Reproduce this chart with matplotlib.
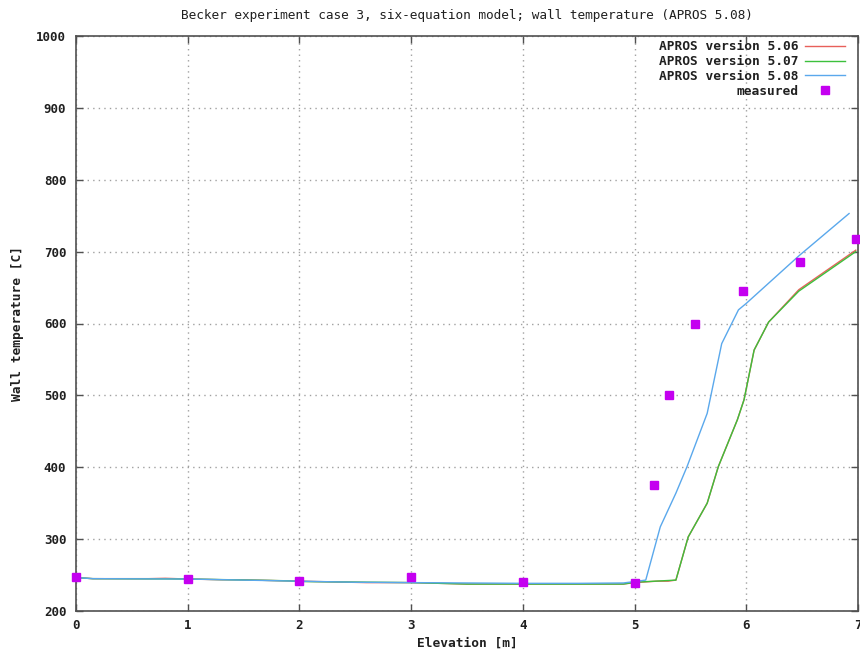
import matplotlib
matplotlib.use("Agg")
import matplotlib.pyplot as plt

# Data
x_v506 = [0.05, 0.15, 0.65, 0.8, 1.0, 1.3, 1.45, 2.0, 2.45, 2.6, 3.0, 3.5, 4.0, 4.5, 4.9, 5.0, 5.2, 5.3, 5.37,
          5.48, 5.65, 5.75, 5.92, 5.98, 6.07, 6.2, 6.47, 6.98]
t_v506 = [246, 245, 245, 245.5, 244.5, 243.5, 243.5, 241.5, 240, 239.5, 239.5, 237.5, 237.5, 237.5, 237.5, 239.5, 241.5, 241.5, 243,
          303, 350, 401, 466, 494, 563, 602, 647, 702]
x_v507 = [0.05, 0.15, 1.0, 1.75, 1.9, 2.0, 3.0, 3.5, 4.0, 4.5, 4.9, 5.0, 5.37,
          5.48, 5.65, 5.75, 5.92, 5.98, 6.07, 6.2, 6.47, 6.98]
t_v507 = [246, 245, 244.5, 242.5, 242, 241, 239.5, 237.5, 237.5, 237.5, 237.5, 240, 243,
          303, 350, 401, 466, 494, 563, 602, 645, 700]
x_v508 = [0.05, 0.15, 1.0, 2.0, 2.5, 3.0, 3.5, 4.0, 4.5, 4.9, 5.1, 5.23, 5.37, 5.47, 5.65, 5.78, 5.93, 6.0,
          6.47, 6.92]
t_v508 = [246, 245, 244.5, 241.5, 240, 239.5, 239, 238.5, 238.5, 239, 243, 317, 364, 401, 475, 572, 619, 628,
          694, 753]
x_meas = [0, 1, 2, 3, 4, 5, 5.17, 5.31, 5.54, 5.97, 6.48, 6.98]
t_meas = [248, 245, 242, 248, 240, 239, 375, 501, 600, 645, 685, 717]

labels = ["APROS version 5.06", "APROS version 5.07", "APROS version 5.08", "measured"]
xticks = [0, 1, 2, 3, 4, 5, 6, 7]
yticks = [200, 300, 400, 500, 600, 700, 800, 900, 1000]
title = "Becker experiment case 3, six-equation model; wall temperature (APROS 5.08)"

mono = "DejaVu Sans Mono"
fig = plt.figure(figsize=(8.6, 6.53), dpi=100)
ax = fig.add_axes([76/860, 1-611/653, (858-76)/860, (611-36)/653])

ax.plot(x_v506, t_v506, color="#e8605a", lw=1.0, label=labels[0], zorder=3)
ax.plot(x_v507, t_v507, color="#3cc03c", lw=1.0, label=labels[1], zorder=4)
ax.plot(x_v508, t_v508, color="#5aa8ec", lw=1.0, label=labels[2], zorder=5)
ax.plot(x_meas, t_meas, ls="none", marker="s", ms=6.3, color="#c400f0", mec="#c400f0",
        label=labels[3], zorder=6, clip_on=False)

ax.set_xlim(0, 7)
ax.set_ylim(200, 1000)
ax.set_xticks(xticks)
ax.set_yticks(yticks)
ax.grid(True, color="#a0a0a0", ls=(0, (1, 3)), lw=1.0)
ax.tick_params(direction="in", top=True, right=True, length=5, width=1, color="#505050",
               labelsize=9, labelcolor="#202020")
ax.tick_params(axis="y", pad=7)
ax.tick_params(axis="x", pad=6)
for lab in ax.get_xticklabels() + ax.get_yticklabels():
    lab.set_family(mono)
    lab.set_fontweight("bold")
for s in ax.spines.values():
    s.set_color("#505050")
    s.set_linewidth(1.2)

ax.set_xlabel("Elevation [m]", family=mono, fontweight="bold", fontsize=9.3, labelpad=3,
              color="#202020")
ax.set_ylabel("Wall temperature [C]", family=mono, fontweight="bold", fontsize=9.3, labelpad=9,
              color="#202020")
fig.text(467/860, 1-15/653, title, family=mono, fontsize=9.2, color="#202020",
         ha="center", va="center")

leg = ax.legend(loc="upper right", bbox_to_anchor=(0.993, 1.006), frameon=False, markerfirst=False,
                handlelength=3.1, prop={"family": mono, "weight": "bold", "size": 9.3},
                labelspacing=0.14, borderaxespad=0.2, borderpad=0.4, handletextpad=0.5)
for t in leg.get_texts():
    t.set_color("#202020")

fig.savefig("out.png", dpi=100)
